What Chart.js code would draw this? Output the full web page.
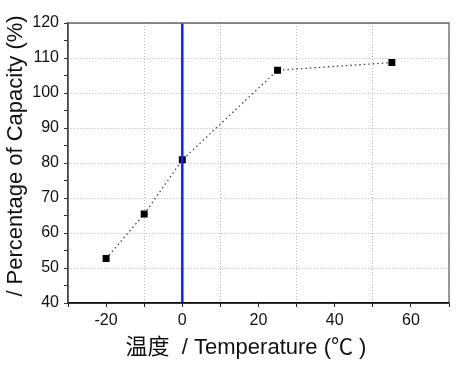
<!DOCTYPE html>
<html>
<head>
<meta charset="UTF-8">
<title>Capacity vs Temperature</title>
<script src="https://cdn.jsdelivr.net/npm/chart.js"></script>
<style>
  html, body { margin: 0; padding: 0; background: #fff; }
  #wrap { width: 475px; height: 368px; position: relative; }
</style>
</head>
<body>
<div id="wrap"><canvas id="grafico"></canvas></div>
<script>
// dados
const temperaturas = [-20, -10, 0, 25, 55];
const capacidades = [52.7, 65.4, 80.9, 106.5, 108.7];

// linha azul vertical em 0 graus
const linhaZeroX = [0, 0];
const linhaZeroY = [40, 120];

const tituloX = '温度  / Temperature (℃ )';
const tituloY = '/ Percentage of Capacity (%)';

const fonte = '"Liberation Sans", Arial, "Noto Sans CJK SC", sans-serif';

// desenha os titulos dos eixos onde estao no original
const titulos = {
  id: 'titulos',
  afterDraw(chart) {
    const ctx = chart.ctx;
    ctx.save();
    ctx.fillStyle = '#111';
    ctx.textAlign = 'center';
    ctx.textBaseline = 'middle';
    ctx.font = '22px ' + fonte;
    ctx.fillText(tituloX, 246, 348);
    ctx.translate(16, 156);
    ctx.rotate(-Math.PI / 2);
    ctx.font = '22px ' + fonte;
    ctx.fillText(tituloY, 0, 0);
    ctx.restore();
  }
};

const config = {
  type: 'scatter',
  data: {
    datasets: [{
      label: 'capacidade',
      data: temperaturas.map((t, i) => ({ x: t, y: capacidades[i] })),
      showLine: true,
      borderColor: '#444',
      borderWidth: 1.3,
      borderDash: [1.5, 3],
      pointStyle: 'rect',
      pointRadius: 4,
      pointBackgroundColor: '#000',
      pointBorderColor: '#000',
      order: 2
    }, {
      label: 'zero',
      data: linhaZeroX.map((t, i) => ({ x: t, y: linhaZeroY[i] })),
      showLine: true,
      borderColor: '#1020ff',
      borderWidth: 2.5,
      pointRadius: 0,
      order: 1
    }]
  },
  options: {
    responsive: true,
    maintainAspectRatio: false,
    animation: false,
    layout: { padding: { top: 23, right: 26, left: 0, bottom: 0 } },
    plugins: {
      legend: { display: false },
      tooltip: { enabled: false }
    },
    scales: {
      x: {
        type: 'linear',
        min: -30,
        max: 70,
        afterFit(scale) { scale.height = 65; },
        border: { display: true, color: '#111', width: 1.3, dash: [1, 2] },
        grid: {
          color: c => (c.tick && c.tick.value % 20 !== 0) ? '#b4b4b4' : 'rgba(0,0,0,0)',
          lineWidth: 1,
          tickColor: '#222',
          tickBorderDash: [],
          tickLength: 4,
          drawTicks: true
        },
        ticks: {
          stepSize: 10,
          autoSkip: false,
          maxRotation: 0,
          padding: 4,
          color: '#111',
          font: { family: fonte, size: 16 },
          callback: v => (v % 20 === 0 ? String(v) : '')
        }
      },
      y: {
        min: 40,
        max: 120,
        afterFit(scale) { scale.width = 68; },
        border: { display: true, color: '#444', width: 1.3, dash: [1, 2] },
        grid: {
          color: c => (c.tick && c.tick.value % 10 === 0) ? '#b4b4b4' : 'rgba(0,0,0,0)',
          lineWidth: 1,
          tickColor: '#333',
          tickBorderDash: [],
          tickLength: 4
        },
        ticks: {
          stepSize: 5,
          autoSkip: false,
          padding: 5,
          color: '#111',
          font: { family: fonte, size: 16 },
          callback: v => (v % 10 === 0 ? String(v) : '')
        }
      }
    }
  },
  plugins: [titulos, {
    // moldura em volta da area do grafico
    id: 'moldura',
    afterDatasetsDraw(chart) {
      const a = chart.chartArea;
      const ctx = chart.ctx;
      ctx.save();
      ctx.lineWidth = 1.3;
      ctx.strokeStyle = '#666';
      ctx.beginPath();
      ctx.moveTo(a.left, a.top);
      ctx.lineTo(a.right, a.top);
      ctx.lineTo(a.right, a.bottom);
      ctx.stroke();
      ctx.strokeStyle = '#444';
      ctx.beginPath();
      ctx.moveTo(a.left, a.top);
      ctx.lineTo(a.left, a.bottom);
      ctx.stroke();
      ctx.strokeStyle = '#111';
      ctx.beginPath();
      ctx.moveTo(a.left, a.bottom);
      ctx.lineTo(a.right, a.bottom);
      ctx.stroke();
      ctx.restore();
    }
  }]
};

new Chart(document.getElementById('grafico'), config);
</script>
</body>
</html>
